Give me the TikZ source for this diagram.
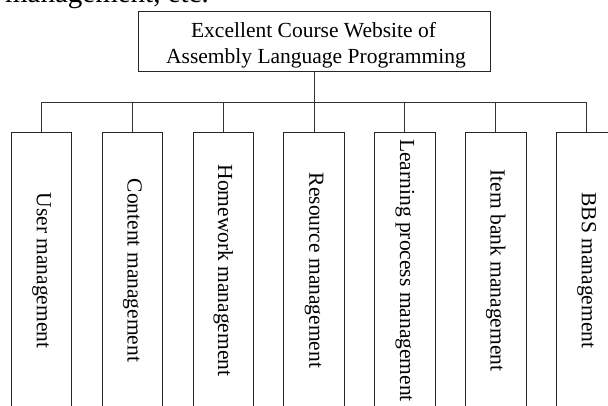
\documentclass[tikz,border=0pt]{standalone}
\usepackage{fontspec}
\setmainfont{Liberation Serif}
\tikzset{
  boxline/.style={draw=black!85, line width=0.9pt},
  topbox/.style={boxline, minimum width=351.7pt, minimum height=59.7pt, inner sep=0pt},
  childbox/.style={boxline, minimum width=60.5pt, minimum height=277pt, inner sep=0pt},
  lbl/.style={font=\fontsize{21.5pt}{26pt}\selectfont, inner sep=0pt},
  vlbl/.style={lbl, rotate=-90},
  conn/.style={draw=black!80, line width=0.9pt}
}
\begin{document}
\begin{tikzpicture}[x=1pt,y=-1pt]
\clip (0,0) rectangle (608,405);
\fill[white] (0,0) rectangle (608,405);
% clipped running text from the page above
\node[font=\fontsize{29pt}{34pt}\selectfont, anchor=base east, inner sep=0pt] (frag) at (209,2.5) {management, etc.};
% top box
\node[topbox] (top) at (314.1,41.2) {};
\node[lbl, anchor=base] (t1) at (313.5,37.3) {Excellent Course Website of};
\node[lbl, anchor=base] (t2) at (316,63.3) {Assembly Language Programming};
% children
\foreach \i/\x/\t in {1/41.5/User management,
                      2/132.4/Content management,
                      3/223.2/Homework management,
                      4/314.1/Resource management,
                      5/404.9/Learning process management,
                      6/495.8/Item bank management,
                      7/586.6/BBS management}{
  \node[childbox] (c\i) at (\x,270.5) {};
  \node[vlbl] (l\i) at (\x,270.5) {\t};
}
\coordinate (bus) at (314.1,102);
\draw[conn] (top.south) -- (bus);
\draw[conn] (c1.north |- bus) -- (c7.north |- bus);
\foreach \i in {1,...,7}{
  \draw[conn] (c\i.north) -- (c\i.north |- bus);
}
\end{tikzpicture}
\end{document}
